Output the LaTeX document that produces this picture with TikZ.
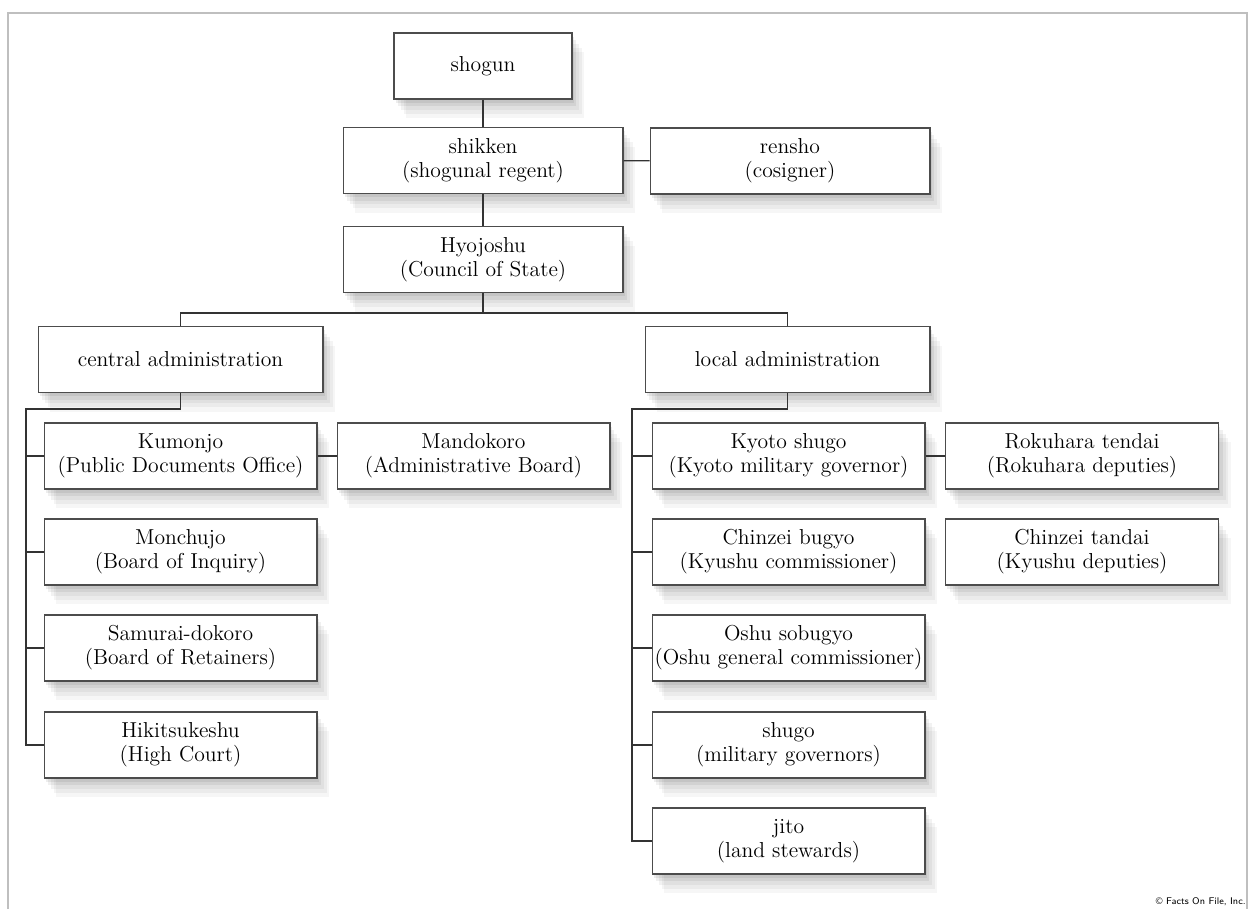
\documentclass[tikz,border=0pt]{standalone}
\usepackage{tikz}
\usetikzlibrary{shadows}

\begin{document}
\begin{tikzpicture}[x=0.02cm, y=-0.02cm,
    post/.style={draw=black!70, line width=0.6pt, fill=white, align=center,
        minimum width=5.46cm, minimum height=1.32cm, inner sep=0pt,
        font=\fontsize{12.3}{13.6}\selectfont,
        drop shadow={shadow xshift=1pt, shadow yshift=-2pt, opacity=.07, fill=black},
        drop shadow={shadow xshift=2.5pt, shadow yshift=-4pt, opacity=.06, fill=black},
        drop shadow={shadow xshift=4pt, shadow yshift=-6pt, opacity=.05, fill=black},
        drop shadow={shadow xshift=5.5pt, shadow yshift=-8.5pt, opacity=.045, fill=black},
        drop shadow={shadow xshift=7pt, shadow yshift=-11pt, opacity=.035, fill=black}},
    link/.style={draw=black!80, line width=0.8pt}]

                \useasboundingbox (0,0) rectangle (1250,909);

                %% frame
                \draw[black!25, line width=0.6pt] (8,909) -- (8,13) -- (1247,13) -- (1247,909);

                %% top
                \node[post, minimum width=3.56cm] (shogun) at (483,66) {shogun};
                \node[post, minimum width=5.6cm] (shikken) at (483,160.5) {shikken\\(shogunal regent)};
                \node[post, minimum width=5.6cm] (rensho) at (790,161) {rensho\\(cosigner)};
                \node[post, minimum width=5.6cm] (hyojoshu) at (483,259.5) {Hyojoshu\\(Council of State)};

                \node[post, minimum width=5.7cm] (central) at (180.5,359.5) {central administration};
                \node[post, minimum width=5.7cm] (local) at (787.5,359.5) {local administration};

                %% central
                \node[post] (kumonjo) at (180.5,456) {Kumonjo\\(Public Documents Office)};
                \node[post] (monchujo) at (180.5,552) {Monchujo\\(Board of Inquiry)};
                \node[post] (samurai) at (180.5,648) {Samurai-dokoro\\(Board of Retainers)};
                \node[post] (hiki) at (180.5,745) {Hikitsukeshu\\(High Court)};
                \node[post] (mandokoro) at (473.5,456) {Mandokoro\\(Administrative Board)};

                %% local
                \node[post] (kyoto) at (788.5,456) {Kyoto shugo\\(Kyoto military governor)};
                \node[post] (chinzeib) at (788.5,552) {Chinzei bugyo\\(Kyushu commissioner)};
                \node[post] (oshu) at (788.5,648) {Oshu sobugyo\\(Oshu general commissioner)};
                \node[post] (shugo) at (788.5,745) {shugo\\(military governors)};
                \node[post] (jito) at (788.5,841) {jito\\(land stewards)};
                \node[post] (rokuhara) at (1082,456) {Rokuhara tendai\\(Rokuhara deputies)};
                \node[post] (chinzeit) at (1082,552) {Chinzei tandai\\(Kyushu deputies)};

                %% links
                \draw[link] (shogun) -- (shikken);
                \draw[link] (shikken) -- (hyojoshu);
                \draw[link] (shikken) -- (rensho);

                \coordinate (bus) at (483,313);
                \draw[link] (hyojoshu.south) -- (bus);
                \draw[link] (central.north) |- (bus) -| (local.north);

                \coordinate (ltop) at (26,409);
                \draw[link] (central.south) |- (ltop) -- (ltop |- hiki.west) -- (hiki.west);
                \foreach \n in {kumonjo, monchujo, samurai}
                    \draw[link] (ltop |- \n.west) -- (\n.west);
                \draw[link] (kumonjo) -- (mandokoro);

                \coordinate (rtop) at (632,409);
                \draw[link] (local.south) |- (rtop) -- (rtop |- jito.west) -- (jito.west);
                \foreach \n in {kyoto, chinzeib, oshu, shugo}
                    \draw[link] (rtop |- \n.west) -- (\n.west);
                \draw[link] (kyoto) -- (rokuhara);

                %% credit
                \node[anchor=south east, inner sep=0pt, font=\sffamily\fontsize{5.5}{6}\selectfont] (credit) at (1246,906) {\textcopyright\ Facts On File, Inc.};

\end{tikzpicture}
\end{document}
